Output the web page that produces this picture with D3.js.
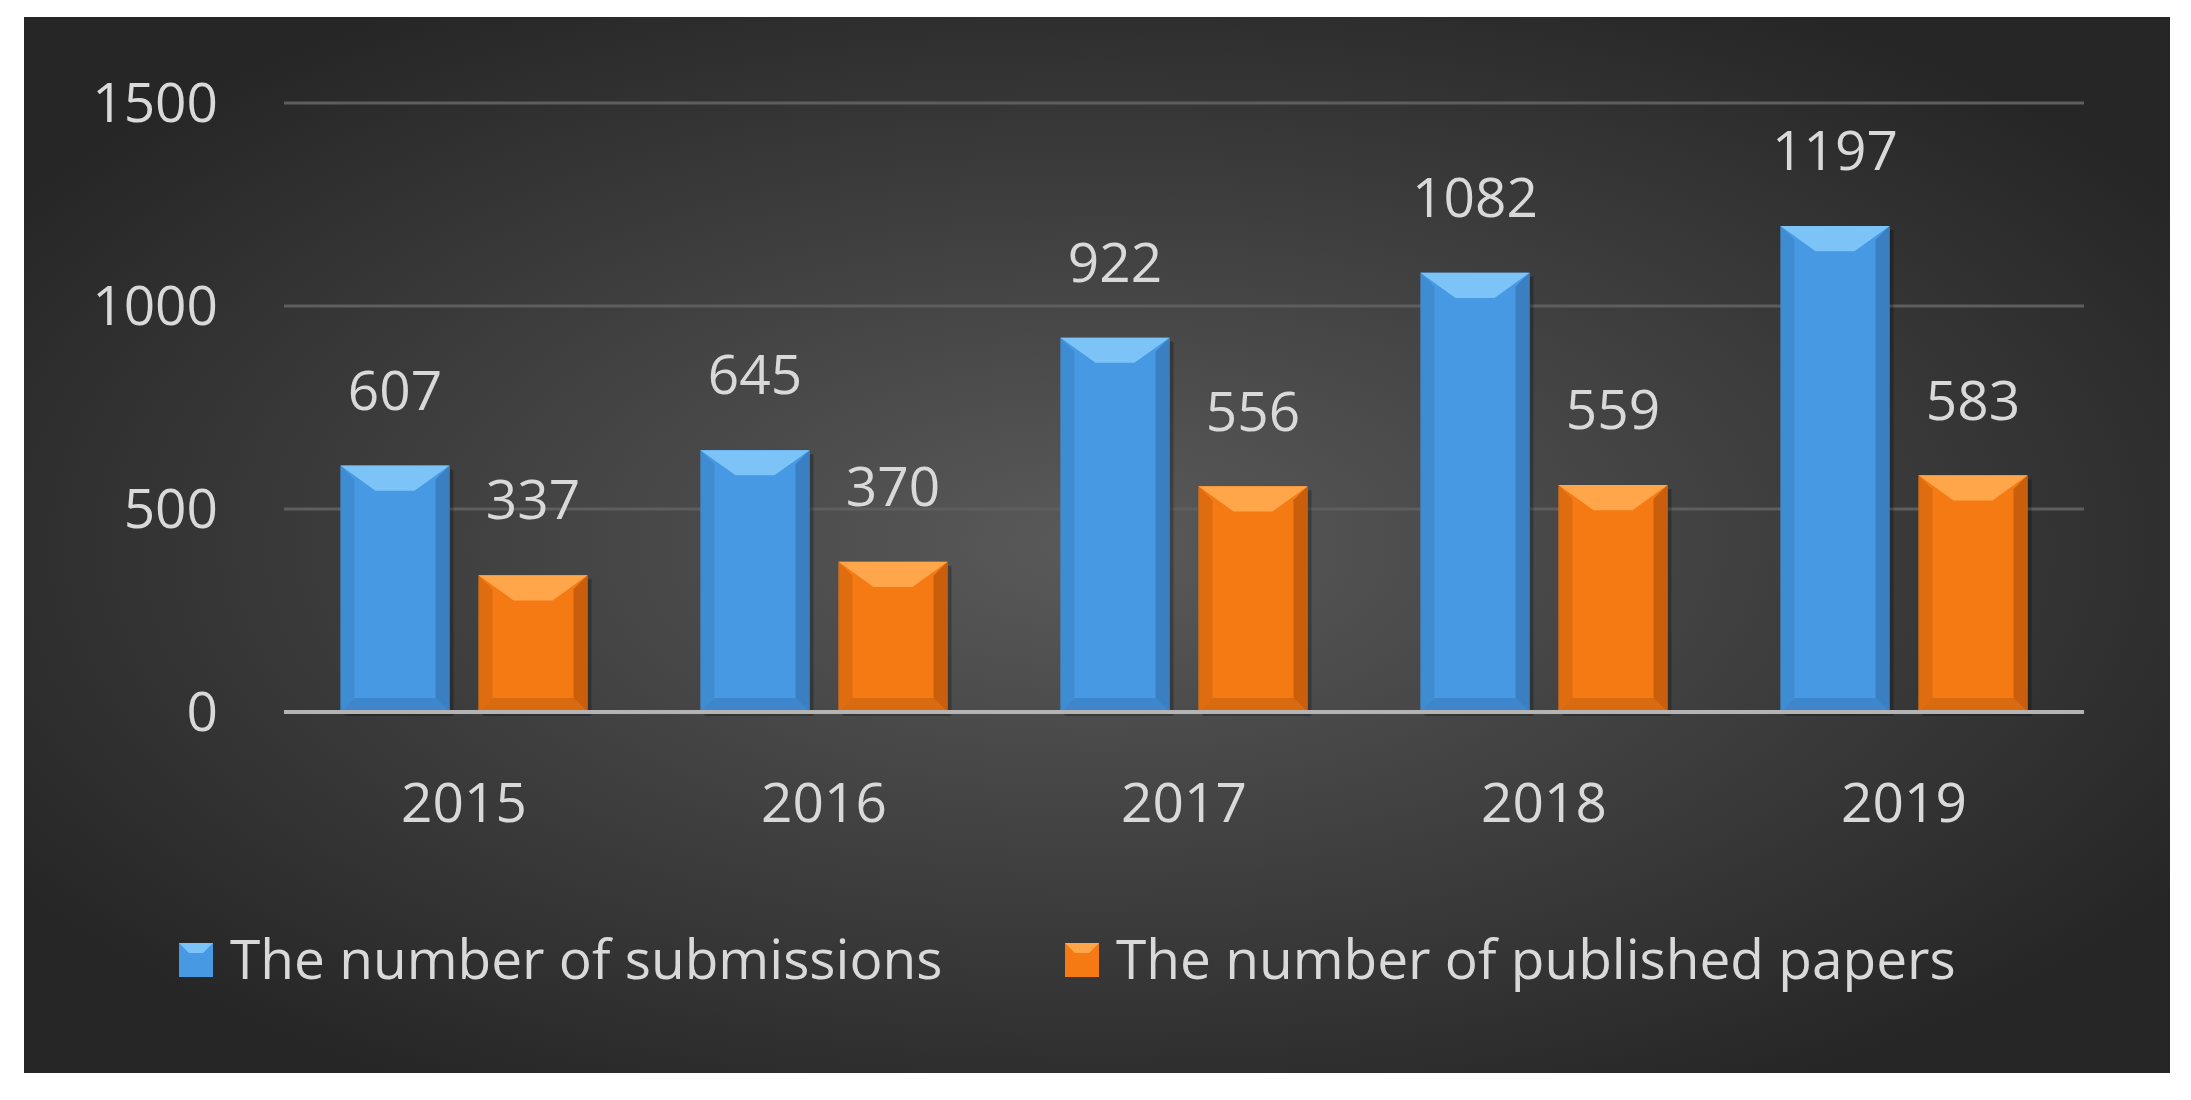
<!DOCTYPE html>
<html><head><meta charset="utf-8">
<script src="https://cdn.jsdelivr.net/npm/d3@7"></script>
<style>body{margin:0;background:#fff}svg{display:block}</style>
</head><body>
<svg id="chart" width="2191" height="1100"></svg>
<script>
var years = ["2015", "2016", "2017", "2018", "2019"]
var submissions = [607, 645, 922, 1082, 1197]
var published = [337, 370, 556, 559, 583]
var series_names = ["The number of submissions", "The number of published papers"]
var y_ticks = [0, 500, 1000, 1500]

var colors = [
    { main: "#4799e3", top: "#7cc4f8", side: "#3a7fc2", bottom: "#3d86cc" },
    { main: "#f57a14", top: "#ffa54a", side: "#c95f0c", bottom: "#d86a10" }
]

var svg = d3.select("#chart")
var font = "'Open Sans', Lato, sans-serif"

// background with radial gradient
var defs = svg.append("defs")
var rg = defs.append("radialGradient").attr("id", "bg").attr("cx", "50%").attr("cy", "50%").attr("r", "60%")
rg.append("stop").attr("offset", "0%").attr("stop-color", "#5a5a5a")
rg.append("stop").attr("offset", "100%").attr("stop-color", "#262626")
svg.append("rect").attr("x", 24).attr("y", 17).attr("width", 2146).attr("height", 1056).attr("fill", "url(#bg)")

var x0 = d3.scaleBand().domain(years).range([284, 2084]).paddingInner(0).paddingOuter(0)
var y = d3.scaleLinear().domain([0, 1500]).range([712, 103])
var bar_w = 109, gap = 29

// gridlines
svg.append("g").selectAll("line").data(y_ticks.slice(1)).join("line")
    .attr("x1", 284).attr("x2", 2084)
    .attr("y1", d => y(d)).attr("y2", d => y(d))
    .attr("stroke", "#5e5e5e").attr("stroke-width", 3)

// y labels
svg.append("g").selectAll("text").data(y_ticks).join("text")
    .attr("x", 218).attr("y", d => y(d)).attr("dy", "0.35em")
    .attr("text-anchor", "end").attr("fill", "#d9d9d9")
    .style("font-family", font).style("font-size", "55px")
    .text(d => d)

function draw_bar(g, x, v, c) {
    var top = y(v), bot = y(0), b = 14
    g.append("rect").attr("x", x + 4).attr("y", top + 4).attr("width", bar_w).attr("height", bot - top)
        .attr("fill", "#000").attr("opacity", 0.25)
    g.append("rect").attr("x", x).attr("y", top).attr("width", bar_w).attr("height", bot - top).attr("fill", c.main)
    // left/right bevels
    g.append("polygon").attr("points", [[x, top], [x + b, top + b], [x + b, bot - b], [x, bot]].join(" ")).attr("fill", c.side).attr("opacity", 0.5)
    g.append("polygon").attr("points", [[x + bar_w, top], [x + bar_w - b, top + b], [x + bar_w - b, bot - b], [x + bar_w, bot]].join(" ")).attr("fill", c.side)
    g.append("polygon").attr("points", [[x, bot], [x + b, bot - b], [x + bar_w - b, bot - b], [x + bar_w, bot]].join(" ")).attr("fill", c.bottom)
    // top bevel
    g.append("polygon").attr("points", [[x, top], [x + bar_w, top], [x + bar_w - b * 2.5, top + b * 1.8], [x + b * 2.5, top + b * 1.8]].join(" ")).attr("fill", c.top)
}

var g = svg.append("g")
years.forEach(function (yr, i) {
    var cx = x0(yr) + x0.bandwidth() / 2
    var xs = [cx - gap / 2 - bar_w, cx + gap / 2]
    var vals = [submissions[i], published[i]]
    vals.forEach(function (v, j) {
        draw_bar(g, xs[j], v, colors[j])
        g.append("text").attr("x", xs[j] + bar_w / 2).attr("y", y(v) - 75).attr("dy", "0.35em")
            .attr("text-anchor", "middle").attr("fill", "#d9d9d9")
            .style("font-family", font).style("font-size", "55px").text(v)
    })
    g.append("text").attr("x", cx).attr("y", 803).attr("dy", "0.35em")
        .attr("text-anchor", "middle").attr("fill", "#d9d9d9")
        .style("font-family", font).style("font-size", "55px").text(yr)
})

// baseline
svg.append("line").attr("x1", 284).attr("x2", 2084).attr("y1", y(0)).attr("y2", y(0))
    .attr("stroke", "#b4b4b4").attr("stroke-width", 4)

// legend
var leg_x = [179, 1065]
series_names.forEach(function (name, j) {
    var lg = svg.append("g")
    lg.append("rect").attr("x", leg_x[j]).attr("y", 943).attr("width", 34).attr("height", 34).attr("fill", colors[j].main)
    lg.append("polygon").attr("points", [[leg_x[j], 943], [leg_x[j] + 34, 943], [leg_x[j] + 24, 953], [leg_x[j] + 10, 953]].join(" ")).attr("fill", colors[j].top)
    lg.append("text").attr("x", leg_x[j] + 51).attr("y", 960).attr("dy", "0.35em")
        .attr("fill", "#d9d9d9").style("font-family", font).style("font-size", "55px").text(name)
})
</script>
</body></html>
